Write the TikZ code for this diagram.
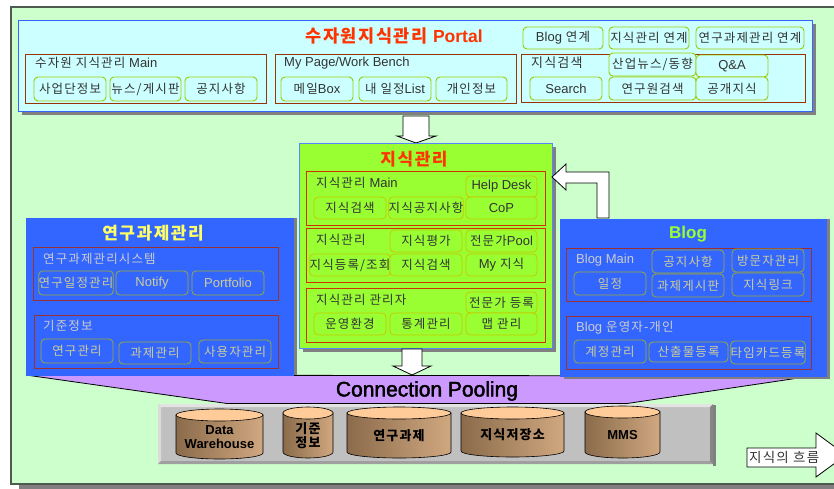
\documentclass[tikz,border=0pt]{standalone}
\usepackage{fontspec}
\setmainfont{Noto Sans CJK KR}[LetterSpace=9]
\newfontfamily\lat{Liberation Sans}
\newfontfamily\latfb{Liberation Sans}[FakeBold=2]
\usetikzlibrary{calc}
\definecolor{bgg}{HTML}{CCFFCC}
\definecolor{frame}{HTML}{4D5A4D}
\definecolor{pfill}{HTML}{CCFFFF}
\definecolor{pblue}{HTML}{3366FF}
\definecolor{lblue}{HTML}{5588FF}
\definecolor{pbord}{HTML}{99CC00}
\definecolor{subr}{HTML}{993300}
\definecolor{gfill}{HTML}{99FF33}
\definecolor{gbord}{HTML}{C8C800}
\definecolor{gsub}{HTML}{CC3300}
\definecolor{bbord}{HTML}{99AA33}
\definecolor{btxt}{HTML}{CCCC99}
\definecolor{blbl}{HTML}{CCCCCC}
\definecolor{rsub}{HTML}{993333}
\definecolor{titlered}{HTML}{FF3300}
\definecolor{ylw}{HTML}{FFFF66}
\definecolor{purp}{HTML}{CC99FF}
\definecolor{txt}{HTML}{333333}
\definecolor{shad}{HTML}{808080}
\definecolor{dbgray}{HTML}{C0C0C0}
\definecolor{cyla}{HTML}{8B6B4B}
\definecolor{cylb}{HTML}{F5C595}
\definecolor{cylc}{HTML}{D0A880}
\definecolor{cyltop}{HTML}{FFCC99}
\newcommand\Bx[7]{\node[#1, minimum width={(#5-#3)*1pt}, minimum height={(#6-#4)*1pt}] (#2) at ({(#3+#5)/2},{(#4+#6)/2}) {#7};}
\newcommand\Shd[4]{\fill[shad] (#1+4,#2+4) rectangle (#3+4,#4+4);}
\newcommand\Cyl[6]{%
  \pgfmathsetmacro\cx{(#2+#3)/2}\pgfmathsetmacro\rx{(#3-#2)/2}%
  \shade[left color=cyla, middle color=cylb, right color=cylc, draw=black, line width=0.6pt]
    (#2,#4+6) -- (#2,#5-6) arc[start angle=180,end angle=360,x radius=\rx pt,y radius=6pt] -- (#3,#4+6) -- cycle;
  \draw[fill=cyltop, line width=0.6pt] (\cx,#4+6) ellipse[x radius=\rx pt, y radius=6pt];
  \node[cyltxt] (#1) at (\cx,{(#4+#5)/2+3}) {#6};}
\newcommand\LL[1]{{\lat\fontsize{13}{14}\selectfont #1}}
\tikzset{
  base/.style={inner sep=0pt, font=\fontsize{12.5}{14}\selectfont},
  pbtn/.style={base, draw=pbord, fill=pfill, rounded corners=4pt, line width=0.9pt, text=txt},
  gbtn/.style={base, draw=gbord, fill=gfill, rounded corners=4pt, line width=0.8pt, text=txt},
  bbtn/.style={base, draw=bbord, fill=pblue, rounded corners=4pt, line width=0.8pt, text=btxt},
  subbox/.style={draw=#1, line width=1pt, inner sep=0pt},
  bigbox/.style={draw=#1, line width=1pt, inner sep=0pt},
  lbl/.style={base, anchor=west},
  ttl/.style={inner sep=0pt, font=\fontsize{17}{20}\selectfont\bfseries},
  blockarrow/.style={fill=white, draw=black, line width=0.8pt},
  cyltxt/.style={inner sep=0pt, align=center, font=\fontsize{13}{14}\selectfont\bfseries},
}
\begin{document}
\begin{tikzpicture}[x=1pt,y=-1pt]
\useasboundingbox (0,0) rectangle (834,488);
\clip (0,0) rectangle (834,488);
\fill[white] (0,0) rectangle (834,488);
% outer frame
\fill[shad] (19,484) rectangle (850,489);
\Bx{draw=frame, fill=bgg, line width=1.3pt, inner sep=0pt}{frame}{11}{7}{850}{484}{}
% ===== Portal =====
\Shd{18}{20}{812}{111}
\Bx{bigbox=pblue, fill=pfill}{portal}{18}{20}{812}{111}{}
\node[ttl, text=titlered, font=\fontsize{17.5}{20}\selectfont\bfseries] (ptitle) at (394,36) {수자원지식관리 {\lat Portal}};
\Bx{subbox=subr}{pmain}{25}{54}{266}{103}{}
\Bx{subbox=subr}{pwork}{275}{54}{516}{103}{}
\Bx{subbox=subr}{psrch}{521}{54}{805}{102}{}
\node[lbl, text=txt] (lmain) at (35,63) {수자원 지식관리 \LL{Main}};
\node[lbl, text=txt, font=\lat\fontsize{13}{14}\selectfont] (lwork) at (284,63) {My Page/Work Bench};
\node[lbl, text=txt, font=\fontsize{13}{14}\selectfont] (lsrch) at (531,63) {지식검색};
\Bx{pbtn}{p1}{34}{77}{106}{101}{사업단정보}
\Bx{pbtn}{p2}{110}{77}{181}{101}{뉴스/게시판}
\Bx{pbtn}{p3}{185}{77}{257}{101}{공지사항}
\Bx{pbtn}{p4}{281}{77}{353}{101}{메일\LL{Box}}
\Bx{pbtn}{p5}{359}{77}{431}{101}{내 일정\LL{List}}
\Bx{pbtn}{p6}{436}{77}{507}{101}{개인정보}
\Bx{pbtn, font=\lat\fontsize{13}{14}\selectfont}{p7}{530}{77}{602}{100}{Search}
\Bx{pbtn}{p8}{609}{53}{696}{76}{산업뉴스/동향}
\Bx{pbtn, font=\lat\fontsize{13}{14}\selectfont}{p9}{696}{55}{768}{77}{Q\&A}
\Bx{pbtn}{p10}{609}{77}{696}{100}{연구원검색}
\Bx{pbtn}{p11}{696}{77}{768}{100}{공개지식}
\Bx{pbtn}{l1}{523}{27}{603}{49}{\LL{Blog} 연계}
\Bx{pbtn}{l2}{609}{27}{689}{49}{지식관리 연계}
\Bx{pbtn}{l3}{696}{27}{804}{49}{연구과제관리 연계}
% ===== purple pooling =====
\draw[fill=purp, line width=0.8pt] (26,375) -- (812,376) -- (627,403.5) -- (227,403.5) -- cycle;
% ===== arrows =====
\draw[blockarrow] (403,116) -- (429,116) -- (429,136) -- (436,136) -- (416,143) -- (397,136) -- (403,136) -- cycle;
% ===== Knowledge management =====
\Shd{299}{143}{552}{348}
\Bx{bigbox=lblue, fill=gfill}{km}{299}{143}{552}{348}{}
\node[ttl, text=titlered] (kmtitle) at (414,159) {지식관리};
\Bx{subbox=gsub}{ka}{306}{171}{545}{225}{}
\Bx{subbox=gsub}{kb}{306}{228}{545}{282}{}
\Bx{subbox=gsub}{kc}{306}{288}{545}{342}{}
\node[lbl, text=txt] (lka) at (316,183) {지식관리 \LL{Main}};
\node[lbl, text=txt] (lkb) at (316,240) {지식관리};
\node[lbl, text=txt] (lkc) at (316,300) {지식관리 관리자};
\Bx{gbtn, font=\lat\fontsize{13}{14}\selectfont}{k1}{466}{176}{537}{197}{Help Desk}
\Bx{gbtn}{k2}{314}{197}{386}{219}{지식검색}
\Bx{gbtn}{k3}{390}{197}{462}{219}{지식공지사항}
\Bx{gbtn, font=\lat\fontsize{13}{14}\selectfont}{k4}{466}{197}{537}{219}{CoP}
\Bx{gbtn}{k5}{390}{230}{462}{252}{지식평가}
\Bx{gbtn}{k6}{466}{230}{537}{252}{전문가\LL{Pool}}
\Bx{gbtn}{k7}{314}{254}{386}{276}{지식등록/조회}
\Bx{gbtn}{k8}{390}{254}{462}{276}{지식검색}
\Bx{gbtn}{k9}{466}{254}{537}{276}{\LL{My} 지식}
\Bx{gbtn}{k10}{466}{292}{537}{313}{전문가 등록}
\Bx{gbtn}{k11}{314}{313}{386}{335}{운영환경}
\Bx{gbtn}{k12}{390}{313}{462}{335}{통계관리}
\Bx{gbtn}{k13}{466}{313}{537}{335}{맵 관리}
% ===== Research management =====
\fill[shad] (293,218) rectangle (297,375);
\Bx{bigbox=pblue, fill=pblue}{rm}{26}{218}{293}{375}{}
\node[ttl, text=ylw] (rmtitle) at (153,233) {연구과제관리};
\Bx{subbox=rsub}{r1}{33}{247}{278}{300}{}
\Bx{subbox=rsub}{r2}{34}{315}{278}{368}{}
\node[lbl, text=blbl] (lr1) at (43,259) {연구과제관리시스템};
\node[lbl, text=blbl] (lr2) at (43,326) {기준정보};
\Bx{bbtn}{rb1}{40}{271}{112}{295}{연구일정관리}
\Bx{bbtn, font=\lat\fontsize{13}{14}\selectfont}{rb2}{116}{271}{188}{295}{Notify}
\Bx{bbtn, font=\lat\fontsize{13}{14}\selectfont}{rb3}{192}{271}{264}{295}{Portfolio}
\Bx{bbtn}{rb4}{41}{339}{113}{363}{연구관리}
\Bx{bbtn}{rb5}{119}{342}{191}{364}{과제관리}
\Bx{bbtn}{rb6}{199}{340}{271}{363}{사용자관리}
% ===== Blog =====
\fill[shad] (826,219) rectangle (830,379);
\fill[shad] (564,376) rectangle (830,379);
\Bx{bigbox=pblue, fill=pblue}{blog}{560}{219}{826}{376}{}
\node[ttl, text=gfill, font=\lat\fontsize{17}{20}\selectfont\bfseries] (blogtitle) at (688,234) {Blog};
\Bx{subbox=rsub}{s1}{566}{248}{811}{301}{}
\Bx{subbox=rsub}{s2}{566}{316}{811}{369}{}
\node[lbl, text=blbl, font=\lat\fontsize{13}{14}\selectfont] (ls1) at (576,260) {Blog Main};
\node[lbl, text=blbl] (ls2) at (576,328) {\LL{Blog} 운영자-개인};
\Bx{bbtn}{sb1}{652}{250}{724}{273}{공지사항}
\Bx{bbtn}{sb2}{732}{249}{804}{272}{방문자관리}
\Bx{bbtn}{sb3}{574}{272}{646}{295}{일정}
\Bx{bbtn}{sb4}{652}{274}{724}{297}{과제게시판}
\Bx{bbtn}{sb5}{732}{273}{804}{296}{지식링크}
\Bx{bbtn}{sb6}{574}{340}{646}{363}{계정관리}
\Bx{bbtn}{sb7}{649}{342}{728}{362}{산출물등록}
\Bx{bbtn}{sb8}{732}{341}{804}{364}{타임카드등록}
% bent arrow blog -> km
\draw[blockarrow] (609,218) -- (609,172) -- (566,172) -- (566,164) -- (552,177) -- (566,190) -- (566,183) -- (597,183) -- (597,218) -- cycle;
% down arrow km -> pooling
\draw[blockarrow] (402,349) -- (422,349) -- (422,366) -- (431,366) -- (412,375) -- (393,366) -- (402,366) -- cycle;
\node[font=\latfb\fontsize{21}{24}\selectfont, text=black, inner sep=0pt] (cp) at (427,391) {Connection Pooling};
% ===== gray DB box =====
\fill[shad] (713,405) rectangle (716,466);
\fill[dbgray] (158,404) rectangle (713,464);
\fill[gray!22] (158,404) -- (713,404) -- (710,407) -- (161,407) -- cycle;
\fill[gray!28] (158,404) -- (161,407) -- (161,461) -- (158,464) -- cycle;
\fill[gray!75] (158,464) -- (713,464) -- (710,461) -- (161,461) -- cycle;
\fill[gray!95] (713,404) -- (713,464) -- (710,461) -- (710,407) -- cycle;
\Cyl{dw}{176}{263}{409}{459}{{\lat Data}\\{\lat Warehouse}}
\Cyl{gj}{283}{333}{407}{458}{기준\\정보}
\Cyl{yg}{347}{451}{407}{458}{연구과제}
\Cyl{js}{461}{564}{407}{457}{지식저장소}
\Cyl{mms}{585}{660}{406}{458}{{\lat MMS}}
% ===== flow arrow =====
\draw[blockarrow] (747,448) -- (816,448) -- (816,433) -- (846,455) -- (816,477) -- (816,467) -- (747,467) -- cycle;
\node[lbl, text=txt, font=\fontsize{13.5}{15}\selectfont] (flow) at (749,457.5) {지식의 흐름};
\end{tikzpicture}
\end{document}
